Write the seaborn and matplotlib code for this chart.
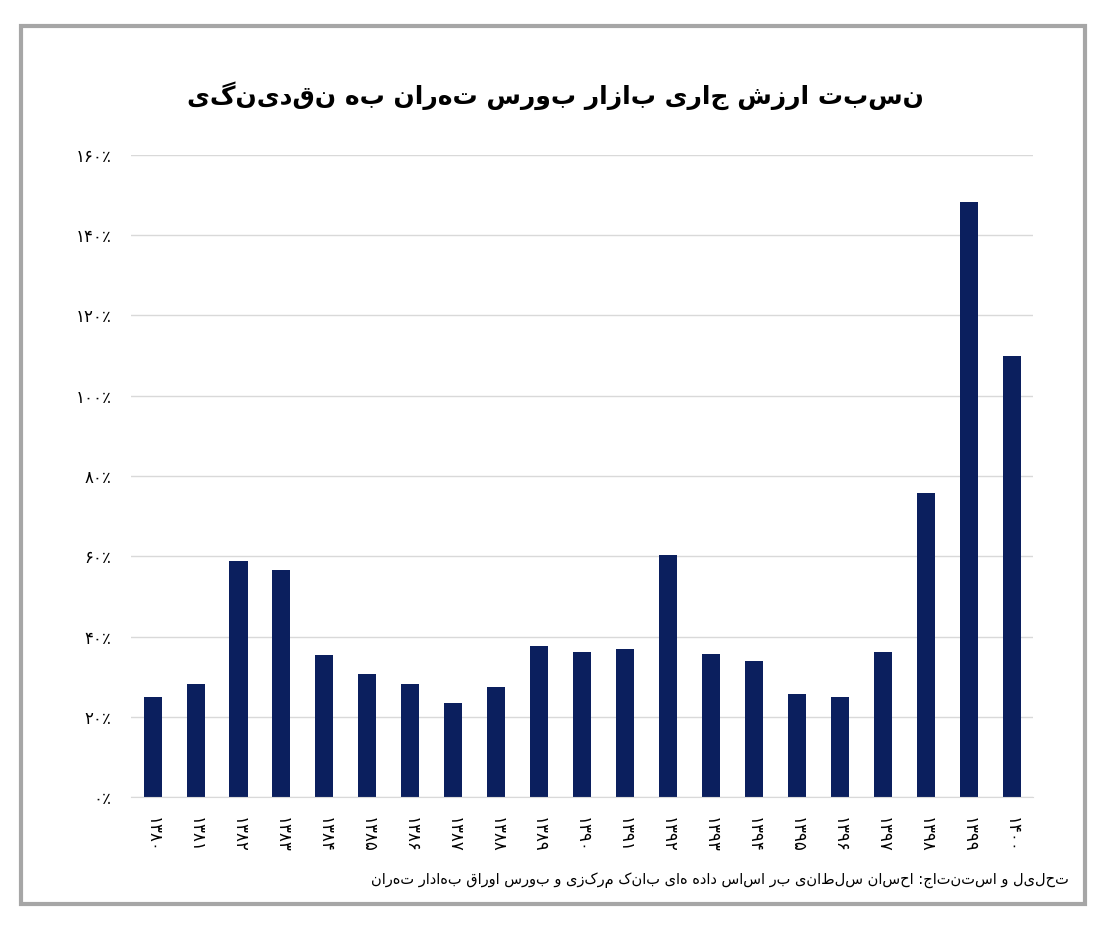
import matplotlib
matplotlib.use("Agg")
import matplotlib.pyplot as plt
import seaborn as sns
import pandas as pd
from matplotlib.patches import Rectangle

years = ["۱۳۸۰","۱۳۸۱","۱۳۸۲","۱۳۸۳","۱۳۸۴","۱۳۸۵","۱۳۸۶","۱۳۸۷","۱۳۸۸","۱۳۸۹",
         "۱۳۹۰","۱۳۹۱","۱۳۹۲","۱۳۹۳","۱۳۹۴","۱۳۹۵","۱۳۹۶","۱۳۹۷","۱۳۹۸","۱۳۹۹","۱۴۰۰"]
ratio = [24.9, 28.2, 58.8, 56.6, 35.4, 30.7, 28.2, 23.4, 27.4, 37.6,
         36.1, 36.9, 60.3, 35.6, 33.9, 25.7, 24.9, 36.1, 75.8, 148.3, 109.9]
ytick_vals = [0, 20, 40, 60, 80, 100, 120, 140, 160]
ytick_labels = ["۰٪","۲۰٪","۴۰٪","۶۰٪","۸۰٪","۱۰۰٪","۱۲۰٪","۱۴۰٪","۱۶۰٪"]
title = "نسبت ارزش جاری بازار بورس تهران به نقدینگی"
source = "تحلیل و استنتاج: احسان سلطانی بر اساس داده های بانک مرکزی و بورس اوراق بهادار تهران"

def fa(s):
    try:
        import arabic_reshaper
        from bidi.algorithm import get_display
        return get_display(arabic_reshaper.reshape(s))
    except Exception:
        return s[::-1]

df = pd.DataFrame({"year": years, "ratio": ratio})
fig = plt.figure(figsize=(11.11, 9.26), dpi=100)
ax = fig.add_axes([0.118, 0.139, 0.812, 0.694])
sns.barplot(data=df, x="year", y="ratio", color="#0b1f5e", width=0.42, ax=ax, saturation=1)
ax.set_ylim(0, 160)
ax.set_yticks(ytick_vals)
ax.set_yticklabels(ytick_labels, fontsize=12, fontfamily="DejaVu Sans")
ax.set_xticks(range(len(years)))
ax.set_xticklabels(years, rotation=-90, fontsize=12, fontfamily="DejaVu Sans")
ax.grid(axis="y", color="#d9d9d9", linewidth=1)
ax.set_axisbelow(True)
for s in ["top", "right", "left"]:
    ax.spines[s].set_visible(False)
ax.spines["bottom"].set_color("#d9d9d9")
ax.tick_params(length=0, pad=14)
ax.set_xlabel(""); ax.set_ylabel("")
fig.text(0.5, 0.897, fa(title), ha="center", va="center", fontsize=18, fontweight="bold", fontfamily="DejaVu Sans")
fig.text(0.962, 0.05, fa(source), ha="right", va="center", fontsize=10.5, fontfamily="DejaVu Sans")
fig.patches.append(Rectangle((0.019, 0.024), 0.958, 0.948, transform=fig.transFigure,
                             fill=False, edgecolor="#a6a6a6", linewidth=3))
fig.savefig("out.png", dpi=100, facecolor="white")
